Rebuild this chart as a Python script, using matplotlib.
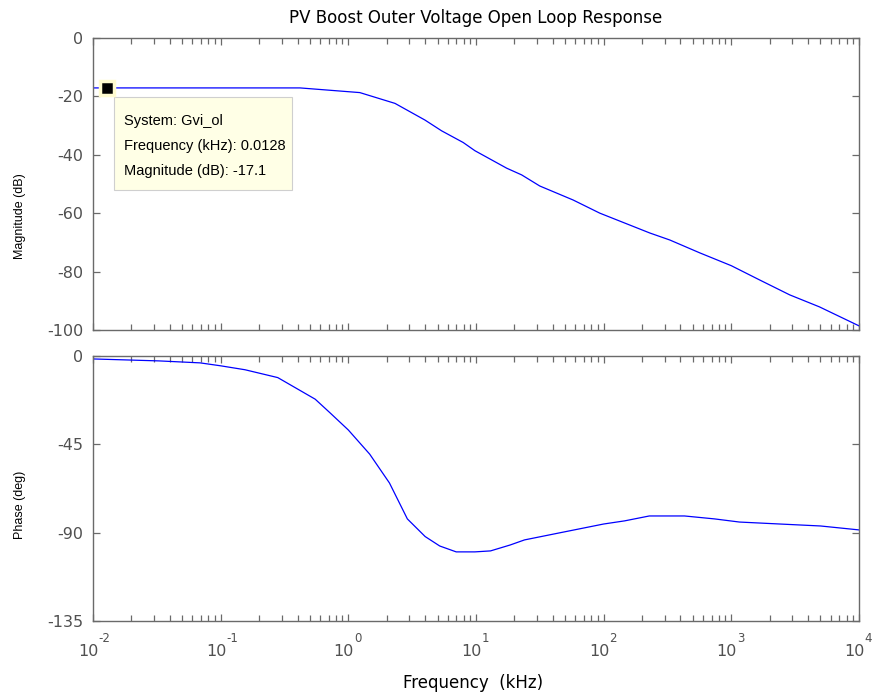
import numpy as np
import matplotlib.pyplot as plt
from matplotlib.patches import Rectangle
from matplotlib.ticker import LogLocator, FixedLocator, NullFormatter

plt.rcParams['font.family'] = ['DejaVu Sans']
plt.rcParams['axes.unicode_minus'] = False

# Gvi_ol open-loop response, frequency in kHz
freq_mag = [0.01, 0.0128, 0.1, 0.418, 1.23, 2.32, 3.98, 5.38, 7.94, 9.8, 17.4, 22.8, 31.6, 57.7, 93.3,
            230, 330, 566, 1000, 1670, 2870, 4900, 10000]
mag_db = [-17.1, -17.1, -17.1, -17.1, -18.7, -22.4, -28.1, -31.8, -35.8, -38.6, -44.6, -46.9, -50.7,
          -55.5, -60.0, -66.8, -69.2, -73.6, -78.0, -82.9, -88.0, -92.1, -98.6]

freq_ph = [0.01, 0.033, 0.069, 0.1, 0.155, 0.28, 0.55, 0.72, 1.0, 1.47, 2.1, 2.9, 4.0, 5.2, 7.0, 9.8,
           13, 18.5, 24, 46, 100, 146, 228, 430, 740, 1160, 2400, 5000, 10000]
phase_deg = [-1.5, -2.5, -3.5, -5.0, -7.0, -11.0, -22.0, -29.0, -37.7, -50.0, -64.7, -83.0, -92.0, -96.8,
             -99.8, -99.8, -99.3, -96.3, -93.7, -90.0, -85.6, -84.0, -81.5, -81.5, -83.0, -84.6, -85.6, -86.6, -88.6]

mag_ticks = [0, -20, -40, -60, -80, -100]
phase_ticks = [0, -45, -90, -135]
decades = [0.01, 0.1, 1, 10, 100, 1000, 10000]
dec_exp = ['-2', '-1', '0', '1', '2', '3', '4']

tip_freq = 0.0128
tip_mag = -17.1

gray = '#6a6a6a'
label_gray = '#505050'
fig = plt.figure(figsize=(8.72, 6.96), dpi=100)
ax1 = fig.add_axes([0.1067, 0.526, 0.8783, 0.4194])
ax2 = fig.add_axes([0.1067, 0.1078, 0.8783, 0.3807])


def style(ax, yticks):
    ax.set_xscale('log')
    ax.set_xlim(0.01, 10000)
    ax.set_ylim(min(yticks), max(yticks))
    ax.yaxis.set_major_locator(FixedLocator(yticks))
    ax.xaxis.set_major_locator(FixedLocator(decades))
    ax.xaxis.set_minor_locator(LogLocator(base=10, subs=np.arange(2, 10), numticks=20))
    ax.xaxis.set_major_formatter(NullFormatter())
    ax.xaxis.set_minor_formatter(NullFormatter())
    ax.tick_params(which='both', direction='in', top=True, right=True, color=gray,
                   labelcolor=label_gray, labelsize=11.5, width=0.9)
    ax.tick_params(which='major', length=5, pad=7)
    ax.tick_params(which='minor', length=4)
    for s in ax.spines.values():
        s.set_color(gray)
        s.set_linewidth(1.0)


style(ax1, mag_ticks)
style(ax2, phase_ticks)

ax1.plot(freq_mag, mag_db, color='#0000ff', lw=0.9)
ax2.plot(freq_ph, phase_deg, color='#0000ff', lw=0.9)

ax1.set_ylabel('Magnitude (dB)', fontsize=9, family='Liberation Sans', va='center', ha='center')
ax1.yaxis.set_label_coords(-0.095, 0.39)
ax2.set_ylabel('Phase (deg)', fontsize=9, family='Liberation Sans', va='center', ha='center')
ax2.yaxis.set_label_coords(-0.095, 0.44)
ax1.set_title('PV Boost Outer Voltage Open Loop Response', fontsize=12, pad=11)

# decade labels written as 10 with a raised exponent
for f, e in zip(decades, dec_exp):
    ax2.annotate('10', xy=(f, 0), xycoords=('data', 'axes fraction'), xytext=(4, -25),
                 textcoords='offset points', ha='right', va='baseline', fontsize=11.5, color=label_gray)
    ax2.annotate(e, xy=(f, 0), xycoords=('data', 'axes fraction'), xytext=(4, -15),
                 textcoords='offset points', ha='left', va='baseline', fontsize=8.5, color=label_gray)
ax2.text(0.496, -0.234, 'Frequency  (kHz)', transform=ax2.transAxes, ha='center', va='center', fontsize=12)

# data tip: marker, then a pale box hanging below-right of it (pixel offsets)
ax1.plot([tip_freq], [tip_mag], marker='s', ms=10, mfc='black', mec='#fffbd0', mew=2.5,
         clip_on=False, zorder=5)
px, py = ax1.transData.transform((tip_freq, tip_mag))
ax1.add_patch(Rectangle((px + 7, py - 9 - 93), 178, 93, transform=None,
                        fc='#ffffe6', ec='#cfcfcf', lw=0.8, zorder=4))
ax1.annotate(f'System: Gvi_ol\nFrequency (kHz): {tip_freq:g}\nMagnitude (dB): {tip_mag:g}',
             xy=(tip_freq, tip_mag), xytext=(17, -58), textcoords='offset pixels',
             ha='left', va='center', fontsize=10.5, linespacing=2.0, family='Liberation Sans',
             zorder=6)

fig.savefig('out.png', dpi=100)
